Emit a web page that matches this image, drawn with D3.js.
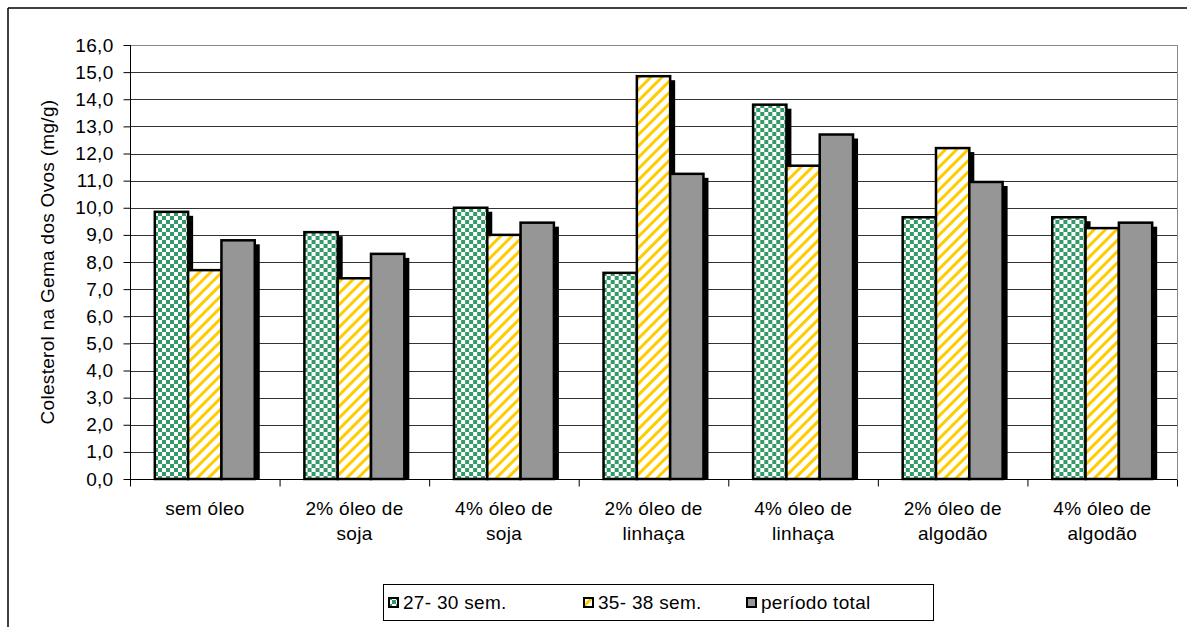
<!DOCTYPE html>
<html>
<head>
<meta charset="utf-8">
<script src="https://cdn.jsdelivr.net/npm/d3@7"></script>
<style>
  html, body { margin: 0; padding: 0; background: #fff; }
  svg { display: block; font-family: "Liberation Sans", Arial, sans-serif; }
</style>
</head>
<body>
<svg id="chart" width="1187" height="627"></svg>
<script>
// Treatments (two-line category labels)
const categories = [
  ["sem óleo"],
  ["2% óleo de", "soja"],
  ["4% óleo de", "soja"],
  ["2% óleo de", "linhaça"],
  ["4% óleo de", "linhaça"],
  ["2% óleo de", "algodão"],
  ["4% óleo de", "algodão"]
];
const seriesNames = ["27- 30 sem.", "35- 38 sem.", "período total"];
const weeks27to30 = [9.85, 9.1, 10.0, 7.6, 13.8, 9.65, 9.65];
const weeks35to38 = [7.7, 7.4, 9.0, 14.85, 11.55, 12.2, 9.25];
const totalPeriod = [8.8, 8.3, 9.45, 11.25, 12.7, 10.95, 9.45];
const yTicks = [0, 1, 2, 3, 4, 5, 6, 7, 8, 9, 10, 11, 12, 13, 14, 15, 16];
const yTitle = "Colesterol na Gema dos Ovos (mg/g)";

const seriesValues = [weeks27to30, weeks35to38, totalPeriod];

const FONT = 19;
const SPACING = 0.3;

const svg = d3.select("#chart");
const plot = { left: 130, right: 1177, top: 45, bottom: 479 };

// Fill patterns
const defs = svg.append("defs");
const check = defs.append("pattern").attr("id", "pat-check")
  .attr("patternUnits", "userSpaceOnUse").attr("width", 8).attr("height", 8);
check.append("rect").attr("width", 8).attr("height", 8).attr("fill", "#fff");
check.append("rect").attr("x", 0).attr("y", 0).attr("width", 4).attr("height", 4).attr("fill", "#339966");
check.append("rect").attr("x", 4).attr("y", 4).attr("width", 4).attr("height", 4).attr("fill", "#339966");

const stripe = defs.append("pattern").attr("id", "pat-stripe")
  .attr("patternUnits", "userSpaceOnUse").attr("width", 8).attr("height", 8)
  .attr("patternTransform", "rotate(45)");
stripe.append("rect").attr("width", 8).attr("height", 8).attr("fill", "#fff");
stripe.append("rect").attr("x", 0).attr("y", 0).attr("width", 3).attr("height", 8).attr("fill", "#ffcc00");

const fills = ["url(#pat-check)", "url(#pat-stripe)", "#969696"];

// Outer frame
svg.append("line").attr("x1", 8).attr("x2", 1187).attr("y1", 8).attr("y2", 8)
  .attr("stroke", "#000").attr("stroke-width", 1.5);
svg.append("line").attr("x1", 8).attr("x2", 8).attr("y1", 8).attr("y2", 627)
  .attr("stroke", "#000").attr("stroke-width", 1.5);

// Scales
const y = d3.scaleLinear().domain([0, 16]).range([plot.bottom, plot.top]);
const x = d3.scaleBand().domain(d3.range(categories.length))
  .range([plot.left, plot.right]).padding(0);
const xs = d3.scaleBand().domain(d3.range(seriesNames.length))
  .range([0, x.bandwidth()]).paddingInner(0).paddingOuter(0.745);

// Gridlines
svg.append("g").selectAll("line").data(yTicks.filter(d => d > 0)).join("line")
  .attr("x1", plot.left).attr("x2", plot.right)
  .attr("y1", d => Math.round(y(d)) + 0.5).attr("y2", d => Math.round(y(d)) + 0.5)
  .attr("stroke", d => d === 16 ? "#888" : "#333").attr("stroke-width", 1);
// Plot area right edge
svg.append("line").attr("x1", plot.right + 0.5).attr("x2", plot.right + 0.5)
  .attr("y1", plot.top).attr("y2", plot.bottom)
  .attr("stroke", "#888").attr("stroke-width", 1);

// Bars with drop shadow
const groups = svg.append("g").selectAll("g").data(categories).join("g")
  .attr("transform", (d, i) => `translate(${x(i)},0)`);

seriesValues.forEach((vals, s) => {
  groups.append("rect")
    .attr("x", (d, i) => xs(s) + 5)
    .attr("y", (d, i) => y(vals[i]) + 4)
    .attr("width", xs.bandwidth())
    .attr("height", (d, i) => plot.bottom - y(vals[i]) - 4)
    .attr("fill", "#000");
});
seriesValues.forEach((vals, s) => {
  groups.append("rect")
    .attr("x", (d, i) => xs(s))
    .attr("y", (d, i) => y(vals[i]))
    .attr("width", xs.bandwidth())
    .attr("height", (d, i) => plot.bottom - y(vals[i]))
    .attr("fill", fills[s])
    .attr("stroke", "#000").attr("stroke-width", 2.5);
});

// Y axis
const yAxis = d3.axisLeft(y).tickValues(yTicks).tickSize(7).tickPadding(10)
  .tickFormat(d => d3.format(".1f")(d).replace(".", ","));
const gy = svg.append("g").attr("transform", `translate(${plot.left + 0.5},0)`).call(yAxis);
gy.select(".domain").attr("stroke", "#000").attr("d", `M0,${plot.top}V${plot.bottom + 7}`);
gy.selectAll(".tick line").attr("stroke", "#000");
gy.selectAll(".tick text").attr("font-size", FONT).attr("fill", "#000")
  .attr("letter-spacing", SPACING)
  .attr("font-family", "Liberation Sans, Arial, sans-serif");

// X axis baseline and ticks at category boundaries
const xAxis = d3.axisBottom(d3.scaleLinear().domain([0, categories.length]).range([plot.left, plot.right]))
  .tickValues(d3.range(categories.length + 1)).tickSize(7).tickFormat("");
const gx = svg.append("g").attr("transform", `translate(0,${plot.bottom + 0.5})`).call(xAxis);
gx.select(".domain").attr("stroke", "#000").attr("d", `M${plot.left},0H${plot.right}`);
gx.selectAll(".tick line").attr("stroke", "#000");

// Category labels
const labels = svg.append("g").selectAll("text").data(categories).join("text")
  .attr("x", (d, i) => x(i) + x.bandwidth() / 2 + SPACING / 2)
  .attr("y", 515)
  .attr("text-anchor", "middle").attr("font-size", FONT).attr("fill", "#000")
  .attr("letter-spacing", SPACING);
labels.selectAll("tspan").data(d => d).join("tspan")
  .attr("x", function () { return d3.select(this.parentNode).attr("x"); })
  .attr("dy", (d, j) => j === 0 ? 0 : 25)
  .text(d => d);

// Y title
svg.append("text")
  .attr("transform", `translate(54,${(plot.top + plot.bottom) / 2}) rotate(-90)`)
  .attr("text-anchor", "middle").attr("font-size", FONT).attr("fill", "#000")
  .attr("letter-spacing", SPACING)
  .text(yTitle);

// Legend
const legend = svg.append("g");
legend.append("rect").attr("x", 383.5).attr("y", 584.5).attr("width", 550).attr("height", 36)
  .attr("fill", "#fff").attr("stroke", "#000").attr("stroke-width", 1);
const legendX = [389, 584, 747];
seriesNames.forEach((name, s) => {
  legend.append("rect").attr("x", legendX[s]).attr("y", 598).attr("width", 9).attr("height", 9)
    .attr("fill", fills[s]).attr("stroke", "#000").attr("stroke-width", 2);
  legend.append("text").attr("x", legendX[s] + 14).attr("y", 609)
    .attr("font-size", FONT).attr("fill", "#000").attr("letter-spacing", SPACING).text(name);
});
</script>
</body>
</html>
